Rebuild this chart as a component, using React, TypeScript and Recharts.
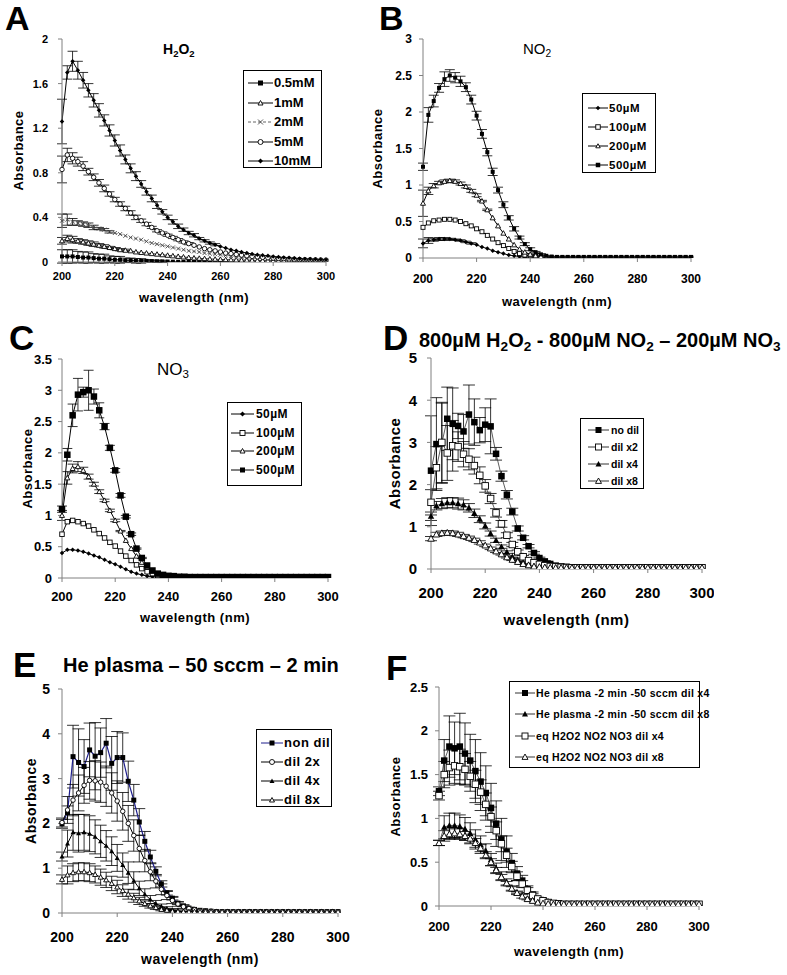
import React from 'react';
import { LineChart, Line, XAxis, YAxis, ErrorBar } from 'recharts';

const FONT = 'Arial, "Liberation Sans", Helvetica, sans-serif';

// wavelength (nm), every 2 nm
const WL = [
  200, 202, 204, 206, 208, 210, 212, 214, 216, 218,
  220, 222, 224, 226, 228, 230, 232, 234, 236, 238,
  240, 242, 244, 246, 248, 250, 252, 254, 256, 258,
  260, 262, 264, 266, 268, 270, 272, 274, 276, 278,
  280, 282, 284, 286, 288, 290, 292, 294, 296, 298,
  300,
];
const X_TICKS = [200, 220, 240, 260, 280, 300];

// ---- A : H2O2 ----
const A_05 = [
  0.05, 0.05, 0.05, 0.045, 0.04, 0.04, 0.035, 0.03, 0.03, 0.025,
  0.02, 0.02, 0.015, 0.015, 0.01, 0.01, 0.01, 0.008, 0.006, 0.005,
  0.004, 0.003, 0.002, 0.002, 0.001, 0.001, 0, 0, 0, 0,
  0, 0, null, null, null, null, null, null, null, null,
  null, null, null, null, null, null, null, null, null, null,
  null,
];
const A_05_ERR = [
  0.06, 0.06, 0.06, 0.05, 0.05, 0.05, 0.04, 0.04, 0.04, 0.03,
  0.03, 0.03, 0.02, 0.02, 0.02, 0.02, 0.01, 0.01, 0.01, 0.01,
  0, 0, 0, 0, 0, 0, 0, 0, 0, 0,
  0, 0, 0, 0, 0, 0, 0, 0, 0, 0,
  0, 0, 0, 0, 0, 0, 0, 0, 0, 0,
  0,
];
const A_1 = [
  0.19, 0.21, 0.2, 0.19, 0.18, 0.17, 0.16, 0.15, 0.14, 0.13,
  0.12, 0.11, 0.105, 0.1, 0.09, 0.085, 0.08, 0.075, 0.07, 0.065,
  0.06, 0.055, 0.05, 0.045, 0.04, 0.036, 0.033, 0.03, 0.027, 0.025,
  0.023, 0.021, 0.02, 0.018, 0.017, 0.016, 0.015, 0.014, 0.013, 0.012,
  0.012, 0.011, 0.011, 0.01, 0.01, 0.01, 0.01, 0.01, 0.01, 0.01,
  0.01,
];
const A_1_ERR = [
  0.03, 0.03, 0.03, 0.02, 0.02, 0.02, 0.02, 0.015, 0.015, 0.01,
  0.01, 0.01, 0.01, 0, 0, 0, 0, 0, 0, 0,
  0, 0, 0, 0, 0, 0, 0, 0, 0, 0,
  0, 0, 0, 0, 0, 0, 0, 0, 0, 0,
  0, 0, 0, 0, 0, 0, 0, 0, 0, 0,
  0,
];
const A_2 = [
  0.37, 0.38, 0.36, 0.35, 0.34, 0.33, 0.31, 0.3, 0.29, 0.27,
  0.26, 0.25, 0.235, 0.22, 0.21, 0.2, 0.185, 0.17, 0.16, 0.15,
  0.14, 0.13, 0.12, 0.11, 0.1, 0.095, 0.09, 0.08, 0.075, 0.07,
  0.065, 0.06, 0.055, 0.05, 0.045, 0.04, 0.035, 0.03, 0.03, 0.025,
  0.02, 0.02, 0.02, 0.015, 0.015, 0.015, 0.012, 0.012, 0.01, 0.01,
  0.01,
];
const A_2_ERR = [
  0.06, 0.05, 0.03, 0.02, 0.02, 0.02, 0.02, 0.01, 0.01, 0.01,
  0, 0, 0, 0, 0, 0, 0, 0, 0, 0,
  0, 0, 0, 0, 0, 0, 0, 0, 0, 0,
  0, 0, 0, 0, 0, 0, 0, 0, 0, 0,
  0, 0, 0, 0, 0, 0, 0, 0, 0, 0,
  0,
];
const A_5 = [
  0.83, 0.96, 0.93, 0.9, 0.86, 0.81, 0.76, 0.71, 0.66, 0.61,
  0.56, 0.52, 0.48, 0.44, 0.4, 0.37, 0.34, 0.31, 0.28, 0.26,
  0.24, 0.22, 0.2, 0.18, 0.165, 0.15, 0.135, 0.12, 0.11, 0.1,
  0.09, 0.08, 0.075, 0.068, 0.062, 0.056, 0.05, 0.046, 0.042, 0.038,
  0.035, 0.032, 0.03, 0.027, 0.025, 0.023, 0.021, 0.02, 0.019, 0.018,
  0.017,
];
const A_5_ERR = [
  0.12, 0.06, 0.05, 0.04, 0.04, 0.03, 0.03, 0.03, 0.03, 0.02,
  0.02, 0.02, 0.02, 0.02, 0.02, 0.015, 0.015, 0.01, 0.01, 0.01,
  0.01, 0.01, 0.01, 0.01, 0.01, 0, 0, 0, 0, 0,
  0, 0, 0, 0, 0, 0, 0, 0, 0, 0,
  0, 0, 0, 0, 0, 0, 0, 0, 0, 0,
  0,
];
const A_10 = [
  1.26, 1.7, 1.8, 1.72, 1.63, 1.54, 1.45, 1.36, 1.27, 1.18,
  1.09, 1.0, 0.92, 0.84, 0.77, 0.7, 0.63, 0.57, 0.51, 0.45,
  0.4, 0.36, 0.32, 0.29, 0.26, 0.24, 0.21, 0.19, 0.17, 0.155,
  0.14, 0.125, 0.11, 0.1, 0.09, 0.08, 0.072, 0.065, 0.06, 0.055,
  0.05, 0.045, 0.04, 0.037, 0.034, 0.03, 0.028, 0.026, 0.024, 0.022,
  0.02,
];
const A_10_ERR = [
  0.2, 0.06, 0.09, 0.08, 0.07, 0.06, 0.06, 0.06, 0.05, 0.05,
  0.05, 0.05, 0.04, 0.04, 0.04, 0.03, 0.03, 0.03, 0.03, 0.02,
  0.02, 0.02, 0.02, 0.015, 0.015, 0.015, 0.01, 0.01, 0.01, 0.01,
  0, 0, 0, 0, 0, 0, 0, 0, 0, 0,
  0, 0, 0, 0, 0, 0, 0, 0, 0, 0,
  0,
];

// ---- B : NO2 ----
const B_50 = [
  0.2, 0.24, 0.25, 0.26, 0.26, 0.26, 0.25, 0.24, 0.22, 0.2,
  0.18, 0.15, 0.13, 0.1, 0.08, 0.06, 0.04, 0.03, 0.02, 0.01,
  0.01, 0.005, 0, 0, 0, 0, 0, 0, 0, 0,
  0, 0, 0, 0, 0, 0, 0, 0, 0, 0,
  0, 0, 0, 0, 0, 0, 0, 0, 0, 0,
  0,
];
const B_50_ERR = [
  0.06, 0.04, 0.02, 0.02, 0.02, 0.01, 0.01, 0.01, 0.01, 0.01,
  0, 0, 0, 0, 0, 0, 0, 0, 0, 0,
  0, 0, 0, 0, 0, 0, 0, 0, 0, 0,
  0, 0, 0, 0, 0, 0, 0, 0, 0, 0,
  0, 0, 0, 0, 0, 0, 0, 0, 0, 0,
  0,
];
const B_100 = [
  0.42, 0.48, 0.51, 0.52, 0.53, 0.53, 0.52, 0.5, 0.47, 0.44,
  0.4, 0.36, 0.31, 0.26, 0.21, 0.17, 0.13, 0.09, 0.06, 0.04,
  0.03, 0.02, 0.01, 0.01, 0.005, 0, 0, 0, 0, 0,
  0, 0, 0, 0, 0, 0, 0, 0, 0, 0,
  0, 0, 0, 0, 0, 0, 0, 0, 0, 0,
  0,
];
const B_200 = [
  0.75, 0.92, 0.99, 1.03, 1.05, 1.06, 1.05, 1.02, 0.98, 0.92,
  0.86, 0.78, 0.66, 0.55, 0.44, 0.34, 0.26, 0.18, 0.12, 0.08,
  0.05, 0.03, 0.02, 0.01, 0.005, 0, 0, 0, 0, 0,
  0, 0, 0, 0, 0, 0, 0, 0, 0, 0,
  0, 0, 0, 0, 0, 0, 0, 0, 0, 0,
  0,
];
const B_200_ERR = [
  0.18, 0.05, 0.03, 0.02, 0.02, 0.02, 0.02, 0.02, 0.02, 0.02,
  0.02, 0.01, 0.01, 0, 0, 0, 0, 0, 0, 0,
  0, 0, 0, 0, 0, 0, 0, 0, 0, 0,
  0, 0, 0, 0, 0, 0, 0, 0, 0, 0,
  0, 0, 0, 0, 0, 0, 0, 0, 0, 0,
  0,
];
const B_500 = [
  1.25, 1.96, 2.15, 2.33, 2.45, 2.5, 2.47, 2.42, 2.34, 2.17,
  1.95, 1.7, 1.45, 1.18, 0.93, 0.73, 0.55, 0.4, 0.28, 0.19,
  0.12, 0.08, 0.05, 0.03, 0.02, 0.015, 0.015, 0.015, 0.015, 0.015,
  0.015, 0.015, 0.015, 0.015, 0.015, 0.015, 0.015, 0.015, 0.015, 0.015,
  0.015, 0.015, 0.015, 0.015, 0.015, 0.015, 0.015, 0.015, 0.015, 0.015,
  0.015,
];
const B_500_ERR = [
  0.05, 0.1, 0.08, 0.06, 0.1, 0.08, 0.07, 0.07, 0.06, 0.06,
  0.06, 0.06, 0.05, 0.05, 0.04, 0.04, 0.03, 0.03, 0.02, 0.02,
  0.02, 0.01, 0.01, 0, 0, 0, 0, 0, 0, 0,
  0, 0, 0, 0, 0, 0, 0, 0, 0, 0,
  0, 0, 0, 0, 0, 0, 0, 0, 0, 0,
  0,
];

// ---- C : NO3 ----
const C_50 = [
  0.4, 0.45, 0.45, 0.44, 0.42, 0.39, 0.36, 0.33, 0.29, 0.25,
  0.22, 0.18, 0.14, 0.1, 0.07, 0.05, 0.03, 0.02, 0.01, 0.005,
  0, 0, 0, 0, 0, 0, 0, 0, 0, 0,
  0, 0, 0, 0, 0, 0, 0, 0, 0, 0,
  0, 0, 0, 0, 0, 0, 0, 0, 0, 0,
  0,
];
const C_100 = [
  0.7, 0.9, 0.92, 0.9, 0.87, 0.83, 0.77, 0.71, 0.64, 0.57,
  0.51, 0.43, 0.35, 0.28, 0.21, 0.15, 0.1, 0.07, 0.04, 0.02,
  0.01, 0.005, 0, 0, 0, 0, 0, 0, 0, 0,
  0, 0, 0, 0, 0, 0, 0, 0, 0, 0,
  0, 0, 0, 0, 0, 0, 0, 0, 0, 0,
  0,
];
const C_200 = [
  1.0, 1.6, 1.75, 1.78, 1.72, 1.62, 1.5, 1.38, 1.24, 1.08,
  0.92, 0.75, 0.6, 0.47, 0.35, 0.25, 0.17, 0.11, 0.07, 0.04,
  0.02, 0.01, 0.005, 0, 0, 0, 0, 0, 0, 0,
  0, 0, 0, 0, 0, 0, 0, 0, 0, 0,
  0, 0, 0, 0, 0, 0, 0, 0, 0, 0,
  0,
];
const C_200_ERR = [
  0.08, 0.1, 0.07, 0.08, 0.05, 0.04, 0.03, 0.03, 0.02, 0.02,
  0.02, 0.01, 0, 0, 0, 0, 0, 0, 0, 0,
  0, 0, 0, 0, 0, 0, 0, 0, 0, 0,
  0, 0, 0, 0, 0, 0, 0, 0, 0, 0,
  0, 0, 0, 0, 0, 0, 0, 0, 0, 0,
  0,
];
const C_500 = [
  1.1, 1.97, 2.6, 2.93, 2.97, 3.0, 2.9, 2.68, 2.42, 2.08,
  1.72, 1.32, 0.98, 0.7, 0.47, 0.32, 0.2, 0.12, 0.07, 0.05,
  0.035, 0.03, 0.02, 0.02, 0.015, 0.015, 0.015, 0.015, 0.015, 0.015,
  0.015, 0.015, 0.015, 0.015, 0.015, 0.015, 0.015, 0.015, 0.015, 0.015,
  0.015, 0.015, 0.015, 0.015, 0.015, 0.015, 0.015, 0.015, 0.015, 0.015,
  0.015,
];
const C_500_ERR = [
  0.05, 0.1, 0.18, 0.26, 0.08, 0.32, 0.12, 0.12, 0.05, 0.04,
  0.03, 0.03, 0.02, 0.02, 0.01, 0.01, 0, 0, 0, 0,
  0, 0, 0, 0, 0, 0, 0, 0, 0, 0,
  0, 0, 0, 0, 0, 0, 0, 0, 0, 0,
  0, 0, 0, 0, 0, 0, 0, 0, 0, 0,
  0,
];

// ---- D : 800µM H2O2 - 800µM NO2 - 200µM NO3 ----
const D_0 = [
  2.33, 2.96, 2.98, 3.56, 3.44, 3.39, 3.26, 3.66, 3.48, 3.29,
  3.42, 3.38, 2.73, 2.2, 1.76, 1.36, 0.96, 0.74, 0.54, 0.38,
  0.26, 0.18, 0.12, 0.08, 0.06, 0.05, 0.04, 0.03, 0.03, 0.03,
  0.03, 0.03, 0.03, 0.03, 0.03, 0.03, 0.03, 0.03, 0.03, 0.03,
  0.03, 0.03, 0.03, 0.03, 0.03, 0.03, 0.03, 0.03, 0.03, 0.03,
  0.03,
];
const D_0_ERR = [
  1.3, 1.1, 0.95, 0.75, 0.85, 0.3, 0.4, 0.7, 0.55, 0.3,
  0.4, 0.65, 0.15, 0.12, 0.1, 0.08, 0.06, 0.05, 0.04, 0.03,
  0.02, 0.02, 0.01, 0, 0, 0, 0, 0, 0, 0,
  0, 0, 0, 0, 0, 0, 0, 0, 0, 0,
  0, 0, 0, 0, 0, 0, 0, 0, 0, 0,
  0,
];
const D_2 = [
  1.58, 2.4, 3.0, 2.75, 2.92, 2.9, 2.72, 2.6, 2.45, 2.22,
  1.97, 1.67, 1.33, 1.07, 0.8, 0.58, 0.41, 0.29, 0.2, 0.15,
  0.11, 0.08, 0.06, 0.05, 0.04, 0.035, 0.03, 0.03, 0.03, 0.03,
  0.03, 0.03, 0.03, 0.03, 0.03, 0.03, 0.03, 0.03, 0.03, 0.03,
  0.03, 0.03, 0.03, 0.03, 0.03, 0.03, 0.03, 0.03, 0.03, 0.03,
  0.03,
];
const D_2_ERR = [
  0.3, 0.5, 0.95, 0.65, 0.6, 0.35, 0.3, 0.25, 0.2, 0.2,
  0.15, 0.12, 0.1, 0.08, 0.06, 0.05, 0.04, 0.03, 0.02, 0.02,
  0.01, 0.01, 0, 0, 0, 0, 0, 0, 0, 0,
  0, 0, 0, 0, 0, 0, 0, 0, 0, 0,
  0, 0, 0, 0, 0, 0, 0, 0, 0, 0,
  0,
];
const D_4 = [
  1.25, 1.5, 1.55, 1.57, 1.57, 1.55, 1.52, 1.45, 1.32, 1.18,
  1.02, 0.84, 0.68, 0.53, 0.4, 0.29, 0.21, 0.15, 0.1, 0.07,
  0.05, 0.04, 0.03, 0.03, 0.03, 0.03, 0.03, 0.03, 0.03, 0.03,
  0.03, 0.03, 0.03, 0.03, 0.03, 0.03, 0.03, 0.03, 0.03, 0.03,
  0.03, 0.03, 0.03, 0.03, 0.03, 0.03, 0.03, 0.03, 0.03, 0.03,
  0.03,
];
const D_4_ERR = [
  0.1, 0.1, 0.12, 0.12, 0.12, 0.13, 0.12, 0.1, 0.1, 0.08,
  0.07, 0.06, 0.05, 0.04, 0.03, 0.02, 0.02, 0.01, 0.01, 0,
  0, 0, 0, 0, 0, 0, 0, 0, 0, 0,
  0, 0, 0, 0, 0, 0, 0, 0, 0, 0,
  0, 0, 0, 0, 0, 0, 0, 0, 0, 0,
  0,
];
const D_8 = [
  0.72, 0.82, 0.85, 0.86, 0.85, 0.82, 0.78, 0.74, 0.69, 0.63,
  0.56, 0.49, 0.42, 0.35, 0.28, 0.22, 0.17, 0.12, 0.09, 0.06,
  0.05, 0.04, 0.035, 0.03, 0.03, 0.03, 0.03, 0.03, 0.03, 0.03,
  0.03, 0.03, 0.03, 0.03, 0.03, 0.03, 0.03, 0.03, 0.03, 0.03,
  0.03, 0.03, 0.03, 0.03, 0.03, 0.03, 0.03, 0.03, 0.03, 0.03,
  0.03,
];
const D_8_ERR = [
  0.05, 0.05, 0.05, 0.05, 0.05, 0.05, 0.04, 0.04, 0.04, 0.04,
  0.03, 0.03, 0.03, 0.02, 0.02, 0.02, 0.01, 0.01, 0, 0,
  0, 0, 0, 0, 0, 0, 0, 0, 0, 0,
  0, 0, 0, 0, 0, 0, 0, 0, 0, 0,
  0, 0, 0, 0, 0, 0, 0, 0, 0, 0,
  0,
];

// ---- E : He plasma - 50 sccm - 2 min ----
const E_0 = [
  1.99, 2.24, 3.49, 3.36, 3.27, 3.64, 3.5, 3.58, 3.79, 3.34,
  3.47, 3.47, 2.94, 2.52, 2.03, 1.6, 1.25, 0.93, 0.65, 0.45,
  0.33, 0.22, 0.16, 0.11, 0.08, 0.06, 0.05, 0.04, 0.03, 0.03,
  0.03, 0.03, 0.03, 0.03, 0.03, 0.03, 0.03, 0.03, 0.03, 0.03,
  0.03, 0.03, 0.03, 0.03, 0.03, 0.03, 0.03, 0.03, 0.03, 0.03,
  0.03,
];
const E_0_ERR = [
  0.1, 0.15, 0.7, 0.75, 0.6, 0.6, 0.75, 0.55, 0.55, 0.6,
  0.58, 0.55, 0.45, 0.35, 0.3, 0.22, 0.15, 0.1, 0.07, 0.05,
  0.04, 0.03, 0.02, 0, 0, 0, 0, 0, 0, 0,
  0, 0, 0, 0, 0, 0, 0, 0, 0, 0,
  0, 0, 0, 0, 0, 0, 0, 0, 0, 0,
  0,
];
const E_2 = [
  2.02, 2.3, 2.52, 2.68, 2.85, 2.96, 2.95, 2.92, 2.83, 2.68,
  2.5, 2.27, 2.0, 1.73, 1.44, 1.17, 0.92, 0.71, 0.53, 0.39,
  0.28, 0.2, 0.14, 0.1, 0.07, 0.05, 0.04, 0.04, 0.03, 0.03,
  0.03, 0.03, 0.03, 0.03, 0.03, 0.03, 0.03, 0.03, 0.03, 0.03,
  0.03, 0.03, 0.03, 0.03, 0.03, 0.03, 0.03, 0.03, 0.03, 0.03,
  0.03,
];
const E_2_ERR = [
  0.1, 0.3, 0.35, 0.4, 0.4, 0.42, 0.45, 0.45, 0.45, 0.45,
  0.45, 0.42, 0.4, 0.35, 0.3, 0.25, 0.2, 0.15, 0.12, 0.09,
  0.07, 0.05, 0.04, 0.03, 0.02, 0, 0, 0, 0, 0,
  0, 0, 0, 0, 0, 0, 0, 0, 0, 0,
  0, 0, 0, 0, 0, 0, 0, 0, 0, 0,
  0,
];
const E_4 = [
  1.26, 1.55, 1.8, 1.78, 1.8, 1.77, 1.7, 1.6, 1.5, 1.38,
  1.23, 1.07, 0.9, 0.72, 0.55, 0.42, 0.3, 0.21, 0.15, 0.1,
  0.07, 0.05, 0.04, 0.03, 0.03, 0.03, 0.03, 0.03, 0.03, 0.03,
  0.03, 0.03, 0.03, 0.03, 0.03, 0.03, 0.03, 0.03, 0.03, 0.03,
  0.03, 0.03, 0.03, 0.03, 0.03, 0.03, 0.03, 0.03, 0.03, 0.03,
  0.03,
];
const E_4_ERR = [
  0.1, 0.3, 0.4, 0.42, 0.4, 0.4, 0.38, 0.36, 0.34, 0.32,
  0.3, 0.27, 0.24, 0.2, 0.16, 0.12, 0.09, 0.07, 0.05, 0.04,
  0.03, 0.02, 0, 0, 0, 0, 0, 0, 0, 0,
  0, 0, 0, 0, 0, 0, 0, 0, 0, 0,
  0, 0, 0, 0, 0, 0, 0, 0, 0, 0,
  0,
];
const E_8 = [
  0.75, 0.85, 0.9, 0.92, 0.92, 0.9, 0.86, 0.8, 0.74, 0.66,
  0.58, 0.5, 0.42, 0.34, 0.27, 0.21, 0.16, 0.12, 0.08, 0.06,
  0.04, 0.035, 0.03, 0.03, 0.03, 0.03, 0.03, 0.03, 0.03, 0.03,
  0.03, 0.03, 0.03, 0.03, 0.03, 0.03, 0.03, 0.03, 0.03, 0.03,
  0.03, 0.03, 0.03, 0.03, 0.03, 0.03, 0.03, 0.03, 0.03, 0.03,
  0.03,
];
const E_8_ERR = [
  0.1, 0.2, 0.2, 0.2, 0.2, 0.2, 0.19, 0.18, 0.17, 0.16,
  0.15, 0.13, 0.11, 0.1, 0.08, 0.06, 0.05, 0.04, 0.03, 0.02,
  0.02, 0, 0, 0, 0, 0, 0, 0, 0, 0,
  0, 0, 0, 0, 0, 0, 0, 0, 0, 0,
  0, 0, 0, 0, 0, 0, 0, 0, 0, 0,
  0,
];

// ---- F : plasma vs equivalent solution ----
const F_HE4 = [
  1.31, 1.66, 1.82, 1.8, 1.82, 1.74, 1.66, 1.54, 1.42, 1.29,
  1.12, 0.94, 0.76, 0.62, 0.49, 0.37, 0.29, 0.19, 0.13, 0.08,
  0.06, 0.04, 0.03, 0.025, 0.02, 0.02, 0.02, 0.02, 0.02, 0.02,
  0.02, 0.02, 0.02, 0.02, 0.02, 0.02, 0.02, 0.02, 0.02, 0.02,
  0.02, 0.02, 0.02, 0.02, 0.02, 0.02, 0.02, 0.02, 0.02, 0.02,
  0.02,
];
const F_HE4_ERR = [
  0.05, 0.24, 0.35, 0.3, 0.38, 0.35, 0.3, 0.36, 0.33, 0.31,
  0.28, 0.26, 0.24, 0.18, 0.11, 0.08, 0.06, 0.04, 0.03, 0.02,
  0.02, 0.01, 0, 0, 0, 0, 0, 0, 0, 0,
  0, 0, 0, 0, 0, 0, 0, 0, 0, 0,
  0, 0, 0, 0, 0, 0, 0, 0, 0, 0,
  0,
];
const F_HE8 = [
  0.72, 0.9, 0.92, 0.92, 0.91, 0.88, 0.83, 0.76, 0.7, 0.63,
  0.53, 0.43, 0.34, 0.27, 0.2, 0.15, 0.11, 0.08, 0.06, 0.04,
  0.03, 0.025, 0.02, 0.02, 0.02, 0.02, 0.02, 0.02, 0.02, 0.02,
  0.02, 0.02, 0.02, 0.02, 0.02, 0.02, 0.02, 0.02, 0.02, 0.02,
  0.02, 0.02, 0.02, 0.02, 0.02, 0.02, 0.02, 0.02, 0.02, 0.02,
  0.02,
];
const F_HE8_ERR = [
  0.03, 0.13, 0.14, 0.14, 0.13, 0.13, 0.12, 0.11, 0.1, 0.08,
  0.07, 0.06, 0.05, 0.04, 0.03, 0.02, 0.02, 0.01, 0, 0,
  0, 0, 0, 0, 0, 0, 0, 0, 0, 0,
  0, 0, 0, 0, 0, 0, 0, 0, 0, 0,
  0, 0, 0, 0, 0, 0, 0, 0, 0, 0,
  0,
];
const F_EQ4 = [
  1.26, 1.5, 1.58, 1.6, 1.59, 1.56, 1.48, 1.39, 1.3, 1.16,
  1.02, 0.86, 0.71, 0.58, 0.45, 0.34, 0.25, 0.18, 0.12, 0.08,
  0.06, 0.04, 0.03, 0.025, 0.02, 0.02, 0.02, 0.02, 0.02, 0.02,
  0.02, 0.02, 0.02, 0.02, 0.02, 0.02, 0.02, 0.02, 0.02, 0.02,
  0.02, 0.02, 0.02, 0.02, 0.02, 0.02, 0.02, 0.02, 0.02, 0.02,
  0.02,
];
const F_EQ4_ERR = [
  0.05, 0.15, 0.2, 0.2, 0.2, 0.18, 0.17, 0.16, 0.14, 0.13,
  0.11, 0.1, 0.09, 0.08, 0.06, 0.05, 0.04, 0.03, 0.02, 0.01,
  0, 0, 0, 0, 0, 0, 0, 0, 0, 0,
  0, 0, 0, 0, 0, 0, 0, 0, 0, 0,
  0, 0, 0, 0, 0, 0, 0, 0, 0, 0,
  0,
];
const F_EQ8 = [
  0.72, 0.8, 0.82, 0.83, 0.82, 0.8, 0.77, 0.72, 0.66, 0.58,
  0.5, 0.41, 0.33, 0.26, 0.2, 0.15, 0.11, 0.08, 0.06, 0.04,
  0.03, 0.025, 0.02, 0.02, 0.02, 0.02, 0.02, 0.02, 0.02, 0.02,
  0.02, 0.02, 0.02, 0.02, 0.02, 0.02, 0.02, 0.02, 0.02, 0.02,
  0.02, 0.02, 0.02, 0.02, 0.02, 0.02, 0.02, 0.02, 0.02, 0.02,
  0.02,
];
const F_EQ8_ERR = [
  0.03, 0.06, 0.06, 0.06, 0.06, 0.05, 0.05, 0.05, 0.04, 0.04,
  0.04, 0.03, 0.03, 0.02, 0.02, 0.01, 0, 0, 0, 0,
  0, 0, 0, 0, 0, 0, 0, 0, 0, 0,
  0, 0, 0, 0, 0, 0, 0, 0, 0, 0,
  0, 0, 0, 0, 0, 0, 0, 0, 0, 0,
  0,
];

type Shape = 'square' | 'osquare' | 'tri' | 'otri' | 'x' | 'ocircle' | 'diamond';

interface Series {
  key: string;
  name: string;
  values: (number | null)[];
  err?: number[];
  shape: Shape;
  size: number;
  color?: string;
  width?: number;
  dash?: string;
}

interface LegendCfg {
  x: number; y: number; w: number; h: number;
  row0: number; dy: number; lx: number; lw: number; tx: number;
  fs: number; ls?: number; msize: number;
}

interface PanelCfg {
  id: string;
  plot: [number, number, number, number];
  yMax: number;
  yTicks: number[];
  yw: number;
  xh: number;
  tickFs: number;
  xTm: number;
  yTm: number;
  lblFs: number;
  cap: number;
  series: Series[];
  legend: LegendCfg;
}

function Mark({ cx, cy, shape, size, color = '#000' }: { cx?: number; cy?: number; shape: Shape; size: number; color?: string }) {
  if (cx == null || cy == null || isNaN(cx) || isNaN(cy)) return <g />;
  const h = size / 2;
  switch (shape) {
    case 'square':
      return <rect x={cx - h} y={cy - h} width={size} height={size} fill={color} />;
    case 'osquare':
      return <rect x={cx - h} y={cy - h} width={size} height={size} fill="#fff" stroke={color} strokeWidth={0.9} />;
    case 'tri':
      return <polygon points={`${cx},${cy - h} ${cx + h},${cy + h * 0.8} ${cx - h},${cy + h * 0.8}`} fill={color} />;
    case 'otri':
      return <polygon points={`${cx},${cy - h} ${cx + h},${cy + h * 0.8} ${cx - h},${cy + h * 0.8}`} fill="#fff" stroke={color} strokeWidth={0.9} />;
    case 'x':
      return <path d={`M${cx - h},${cy - h}L${cx + h},${cy + h}M${cx + h},${cy - h}L${cx - h},${cy + h}`} stroke="#444" strokeWidth={0.9} />;
    case 'ocircle':
      return <circle cx={cx} cy={cy} r={h} fill="#fff" stroke={color} strokeWidth={0.9} />;
    case 'diamond':
      return <polygon points={`${cx},${cy - h} ${cx + h},${cy} ${cx},${cy + h} ${cx - h},${cy}`} fill={color} />;
  }
  return <g />;
}

const PANELS: PanelCfg[] = [
  {
    id: 'A', plot: [62, 39, 326, 262], yMax: 2, yTicks: [0, 0.4, 0.8, 1.2, 1.6, 2],
    yw: 48, xh: 40, tickFs: 11, xTm: 6, yTm: 10, lblFs: 13, cap: 5,
    series: [
      { key: 'a05', name: '0.5mM', values: A_05, err: A_05_ERR, shape: 'square', size: 4 },
      { key: 'a1', name: '1mM', values: A_1, err: A_1_ERR, shape: 'otri', size: 5, width: 0.8 },
      { key: 'a2', name: '2mM', values: A_2, err: A_2_ERR, shape: 'x', size: 4, color: '#666', dash: '3 2', width: 0.8 },
      { key: 'a5', name: '5mM', values: A_5, err: A_5_ERR, shape: 'ocircle', size: 4.5 },
      { key: 'a10', name: '10mM', values: A_10, err: A_10_ERR, shape: 'diamond', size: 4.5 },
    ],
    legend: { x: 243, y: 70, w: 79, h: 98, row0: 12, dy: 19.5, lx: 4, lw: 25, tx: 30, fs: 13, msize: 5 },
  },
  {
    id: 'B', plot: [423, 39, 691, 258], yMax: 3, yTicks: [0, 0.5, 1, 1.5, 2, 2.5, 3],
    yw: 50, xh: 48, tickFs: 12, xTm: 12, yTm: 7, lblFs: 13, cap: 5,
    series: [
      { key: 'b50', name: '50µM', values: B_50, err: B_50_ERR, shape: 'diamond', size: 4.5 },
      { key: 'b100', name: '100µM', values: B_100, shape: 'osquare', size: 4 },
      { key: 'b200', name: '200µM', values: B_200, err: B_200_ERR, shape: 'otri', size: 5 },
      { key: 'b500', name: '500µM', values: B_500, err: B_500_ERR, shape: 'square', size: 4 },
    ],
    legend: { x: 582, y: 93, w: 74, h: 80, row0: 13.5, dy: 19, lx: 5, lw: 20, tx: 26, fs: 11.5, ls: 0.5, msize: 4.5 },
  },
  {
    id: 'C', plot: [62, 359, 328, 578], yMax: 3.5, yTicks: [0, 0.5, 1, 1.5, 2, 2.5, 3, 3.5],
    yw: 39, xh: 44, tickFs: 13, xTm: 10, yTm: 6, lblFs: 13, cap: 5,
    series: [
      { key: 'c50', name: '50µM', values: C_50, shape: 'diamond', size: 4.5 },
      { key: 'c100', name: '100µM', values: C_100, shape: 'osquare', size: 4.5 },
      { key: 'c200', name: '200µM', values: C_200, err: C_200_ERR, shape: 'otri', size: 5 },
      { key: 'c500', name: '500µM', values: C_500, err: C_500_ERR, shape: 'square', size: 6.5 },
    ],
    legend: { x: 227, y: 402, w: 75, h: 84, row0: 11, dy: 18.5, lx: 3, lw: 23, tx: 28, fs: 12, ls: 0.4, msize: 5 },
  },
  {
    id: 'D', plot: [431, 358, 702, 569], yMax: 5, yTicks: [0, 1, 2, 3, 4, 5],
    yw: 40, xh: 56, tickFs: 15, xTm: 14, yTm: 10, lblFs: 15, cap: 6,
    series: [
      { key: 'd0', name: 'no dil', values: D_0, err: D_0_ERR, shape: 'square', size: 6.5, color: '#333', width: 0.8 },
      { key: 'd2', name: 'dil x2', values: D_2, err: D_2_ERR, shape: 'osquare', size: 6.5, color: '#333', width: 0.8 },
      { key: 'd4', name: 'dil x4', values: D_4, err: D_4_ERR, shape: 'tri', size: 6.5, color: '#333', width: 0.8 },
      { key: 'd8', name: 'dil x8', values: D_8, err: D_8_ERR, shape: 'otri', size: 6.5, color: '#333', width: 0.8 },
    ],
    legend: { x: 580, y: 418, w: 64, h: 71, row0: 10.5, dy: 17, lx: 7, lw: 21, tx: 30, fs: 10.5, msize: 6 },
  },
  {
    id: 'E', plot: [62, 689, 338, 913], yMax: 5, yTicks: [0, 1, 2, 3, 4, 5],
    yw: 35, xh: 51, tickFs: 14, xTm: 15, yTm: 8, lblFs: 14, cap: 6,
    series: [
      { key: 'e0', name: 'non dil', values: E_0, err: E_0_ERR, shape: 'square', size: 5, color: '#1e1e8c', width: 1.2 },
      { key: 'e2', name: 'dil 2x', values: E_2, err: E_2_ERR, shape: 'ocircle', size: 4.5 },
      { key: 'e4', name: 'dil 4x', values: E_4, err: E_4_ERR, shape: 'tri', size: 5 },
      { key: 'e8', name: 'dil 8x', values: E_8, err: E_8_ERR, shape: 'otri', size: 5 },
    ],
    legend: { x: 256, y: 729, w: 76, h: 78, row0: 13, dy: 19, lx: 4, lw: 22, tx: 27, fs: 13, ls: 0.5, msize: 5 },
  },
  {
    id: 'F', plot: [439, 687, 699, 906], yMax: 2.5, yTicks: [0, 0.5, 1, 1.5, 2, 2.5],
    yw: 48, xh: 50, tickFs: 13, xTm: 12, yTm: 7, lblFs: 13, cap: 6,
    series: [
      { key: 'fh4', name: 'He plasma -2 min -50 sccm dil x4', values: F_HE4, err: F_HE4_ERR, shape: 'square', size: 6.5, color: '#333', width: 0.8 },
      { key: 'fh8', name: 'He plasma -2 min -50 sccm dil x8', values: F_HE8, err: F_HE8_ERR, shape: 'tri', size: 6.5, color: '#333', width: 0.8 },
      { key: 'fe4', name: 'eq H2O2 NO2 NO3 dil x4', values: F_EQ4, err: F_EQ4_ERR, shape: 'osquare', size: 6.5, color: '#333', width: 0.8 },
      { key: 'fe8', name: 'eq H2O2 NO2 NO3 dil x8', values: F_EQ8, err: F_EQ8_ERR, shape: 'otri', size: 6.5, color: '#333', width: 0.8 },
    ],
    legend: { x: 509, y: 681, w: 191, h: 87, row0: 10.5, dy: 21.5, lx: 5, lw: 20, tx: 26, fs: 10.5, ls: 0.3, msize: 6 },
  },
];

function LegendBox({ cfg, series }: { cfg: LegendCfg; series: Series[] }) {
  return (
    <div style={{ position: 'absolute', left: cfg.x, top: cfg.y, width: cfg.w, height: cfg.h, border: '1px solid #000', boxSizing: 'border-box', background: '#fff' }}>
      {series.map((s, i) => {
        const cy = cfg.row0 + i * cfg.dy;
        return (
          <div key={s.key} style={{ position: 'absolute', left: 0, top: cy - 8, height: 16, width: '100%' }}>
            <svg style={{ position: 'absolute', left: cfg.lx, top: 0 }} width={cfg.lw} height={16}>
              <line x1={0} x2={cfg.lw} y1={8} y2={8} stroke={s.color || '#000'} strokeWidth={1} strokeDasharray={s.dash} />
              <Mark cx={cfg.lw / 2} cy={8} shape={s.shape} size={cfg.msize} />
            </svg>
            <span style={{ position: 'absolute', left: cfg.tx, top: 0, lineHeight: '16px', fontSize: cfg.fs, fontWeight: 'bold', whiteSpace: 'nowrap', letterSpacing: cfg.ls || 0, fontFamily: FONT }}>
              {s.name}
            </span>
          </div>
        );
      })}
    </div>
  );
}

function Panel({ cfg }: { cfg: PanelCfg }) {
  const [x0, y0, x1, y1] = cfg.plot;
  const mt = 10;
  const mr = 12;
  const ml = 10;
  const mb = 8;
  const width = x1 - x0 + cfg.yw + mr + ml;
  const height = y1 - y0 + mt + cfg.xh + mb;
  const data = WL.map((x, i) => {
    const r: any = { x };
    cfg.series.forEach((s) => {
      r[s.key] = s.values[i];
      if (s.err) r[s.key + 'Err'] = s.err[i];
    });
    return r;
  });
  const tick = { fontSize: cfg.tickFs, fontWeight: 'bold', fill: '#000', fontFamily: FONT };
  const lbl = { fontSize: cfg.lblFs, fontWeight: 'bold', fill: '#000', fontFamily: FONT, letterSpacing: 0.5 };
  return (
    <>
      <div style={{ position: 'absolute', left: x0 - cfg.yw - ml, top: y0 - mt }}>
        <LineChart width={width} height={height} data={data} margin={{ top: mt, right: mr, bottom: mb, left: ml }}>
          <XAxis
            dataKey="x" type="number" domain={[200, 300]} ticks={X_TICKS} height={cfg.xh}
            tick={tick} tickSize={4} tickMargin={cfg.xTm} stroke="#808080"
            label={{ value: 'wavelength (nm)', position: 'insideBottom', offset: 0, style: lbl }}
          />
          <YAxis
            type="number" domain={[0, cfg.yMax]} ticks={cfg.yTicks} width={cfg.yw}
            tick={tick} tickSize={4} tickMargin={cfg.yTm} stroke="#808080" allowDataOverflow
            label={{ value: 'Absorbance', angle: -90, position: 'insideLeft', offset: 4, style: { ...lbl, textAnchor: 'middle' } }}
          />
          {cfg.series.map((s) => (
            <Line
              key={s.key}
              dataKey={s.key}
              name={s.name}
              type="linear"
              stroke={s.color || '#000'}
              strokeWidth={s.width || 1}
              strokeDasharray={s.dash}
              isAnimationActive={false}
              activeDot={false}
              connectNulls={false}
              dot={(p: any) => (
                <Mark key={`${s.key}-${p.index}`} cx={p.cx} cy={p.cy} shape={s.shape} size={s.size} />
              )}
            >
              {s.err && (
                <ErrorBar dataKey={s.key + 'Err'} width={cfg.cap} stroke="#000" strokeWidth={0.8} direction="y" isAnimationActive={false} />
              )}
            </Line>
          ))}
        </LineChart>
      </div>
      <LegendBox cfg={cfg.legend} series={cfg.series} />
    </>
  );
}

const sub = { fontSize: '0.68em', verticalAlign: '-0.28em' } as const;

function Txt({ x, base, fs, bold, children }: { x: number; base: number; fs: number; bold?: boolean; children: React.ReactNode }) {
  return (
    <div style={{ position: 'absolute', left: x, top: base - 0.846 * fs, fontSize: fs, lineHeight: 1, fontWeight: bold ? 'bold' : 'normal', whiteSpace: 'nowrap', fontFamily: FONT, color: '#000' }}>
      {children}
    </div>
  );
}

export default function App() {
  return (
    <div style={{ position: 'absolute', left: 0, top: 0, width: 787, height: 975, background: '#fff', fontFamily: FONT, overflow: 'hidden' }}>
      {PANELS.map((p) => <Panel key={p.id} cfg={p} />)}

      <Txt x={5} base={30} fs={34} bold>A</Txt>
      <Txt x={379} base={30} fs={34} bold>B</Txt>
      <Txt x={9} base={350} fs={35} bold>C</Txt>
      <Txt x={383} base={350} fs={35} bold>D</Txt>
      <Txt x={13} base={677} fs={35} bold>E</Txt>
      <Txt x={386} base={680} fs={35} bold>F</Txt>

      <Txt x={163} base={54} fs={14} bold>H<span style={sub}>2</span>O<span style={sub}>2</span></Txt>
      <Txt x={523} base={54} fs={15}>NO<span style={sub}>2</span></Txt>
      <Txt x={157} base={375} fs={17}>NO<span style={sub}>3</span></Txt>
      <Txt x={419} base={347} fs={20} bold>
        800µM H<span style={sub}>2</span>O<span style={sub}>2</span> - 800µM NO<span style={sub}>2</span> – 200µM NO<span style={sub}>3</span>
      </Txt>
      <Txt x={63} base={672} fs={20} bold>He plasma – 50 sccm – 2 min</Txt>
    </div>
  );
}
